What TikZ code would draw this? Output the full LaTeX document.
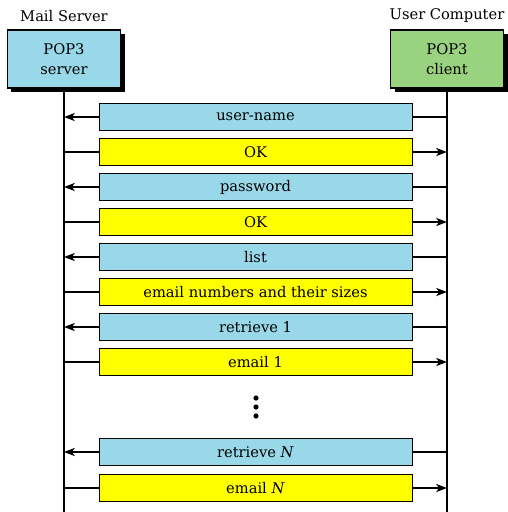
\documentclass[tikz,border=0pt]{standalone}
\usepackage{fontspec}
\setmainfont{DejaVu Serif}
\usetikzlibrary{arrows.meta,shadows}

\definecolor{reqblue}{RGB}{152,216,232}
\definecolor{hostgreen}{RGB}{153,211,127}
\definecolor{ansyellow}{RGB}{255,255,0}

\tikzset{
  hostbox/.style={draw, line width=0.8pt, minimum width=84.75pt, minimum height=43.5pt, align=center, font=\fontsize{11}{15}\selectfont, drop shadow={shadow xshift=3pt, shadow yshift=-3pt, fill=black, opacity=1}},
  reqbar/.style={draw, line width=0.6pt, fill=reqblue, minimum width=234.75pt, minimum height=20pt, inner sep=0pt, font=\fontsize{11}{13}\selectfont},
  ansbar/.style={reqbar, fill=ansyellow},
  lifeline/.style={line width=2.2pt},
  msgline/.style={line width=1.3pt},
  msgarrow/.style={msgline, -{Stealth[length=8pt,width=6pt,inset=2pt]}}
}

\begin{document}
\begin{tikzpicture}[x=0.75pt,y=0.75pt,yscale=-1,xscale=1]
\useasboundingbox (0,0) rectangle (508,512);

% hosts
\node [font=\fontsize{11}{13}\selectfont] (srvlabel) at (64,16) {Mail Server};
\node [font=\fontsize{11}{13}\selectfont] (clilabel) at (447,16) {User Computer};
\node [hostbox, fill=reqblue] (srv) at (64,59) {POP3\\server};
\node [hostbox, fill=hostgreen] (cli) at (447,59) {POP3\\client};

% lifelines
\coordinate (srvbot) at (64,512);
\coordinate (clibot) at (447,512);
\draw [lifeline] (srv.south) -- (srvbot);
\draw [lifeline] (cli.south) -- (clibot);

% messages
\node [reqbar] (m1) at (255.5,117) {user-name};
\node [ansbar] (m2) at (255.5,152) {OK};
\node [reqbar] (m3) at (255.5,187) {password};
\node [ansbar] (m4) at (255.5,222) {OK};
\node [reqbar] (m5) at (255.5,257) {list};
\node [ansbar] (m6) at (255.5,292) {email numbers and their sizes};
\node [reqbar] (m7) at (255.5,327) {retrieve 1};
\node [ansbar] (m8) at (255.5,362) {email 1};
\node [reqbar] (m9) at (255.5,452) {retrieve \textit{N}};
\node [ansbar] (m10) at (255.5,488) {email \textit{N}};

% client to server
\foreach \m in {m1,m3,m5,m7,m9}{
  \draw [msgline] (\m.east) -- (\m.east -| clibot);
  \draw [msgarrow] (\m.west) -- (\m.west -| srvbot);
}
% server to client
\foreach \m in {m2,m4,m6,m8,m10}{
  \draw [msgline] (\m.west -| srvbot) -- (\m.west);
  \draw [msgarrow] (\m.east) -- (\m.east -| clibot);
}

% dots
\fill (256,398) circle (2.6);
\fill (256,407) circle (2.6);
\fill (256,416) circle (2.6);

\end{tikzpicture}
\end{document}
